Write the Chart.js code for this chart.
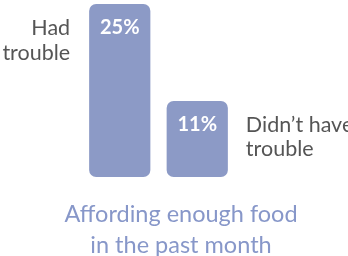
<!DOCTYPE html>
<html>
<head>
<meta charset="utf-8">
<script src="https://cdn.jsdelivr.net/npm/chart.js@4"></script>
<style>
  html, body { margin: 0; padding: 0; background: #fff; }
  #wrap { width: 348px; height: 256px; position: relative; }
</style>
</head>
<body>
<div id="wrap"><canvas id="chart"></canvas></div>
<script>
// data
const categories = ["Had trouble", "Didn't have trouble"];
const sideLabels = [["Had", "trouble"], ["Didn\u2019t have", "trouble"]];
const values = [25, 11];
const titleLines = ["Affording enough food", "in the past month"];

const BAR_COLOR = "#8c9ac6";
const TEXT_GRAY = "#555555";
const TITLE_COLOR = "#8797c9";

// draws value labels, side labels and the bottom title
const labelPlugin = {
  id: "labels",
  afterDatasetsDraw(chart) {
    const ctx = chart.ctx;
    const meta = chart.getDatasetMeta(0);
    ctx.save();
    meta.data.forEach((bar, i) => {
      const half = bar.width / 2;
      ctx.textBaseline = "alphabetic";

      ctx.fillStyle = "#ffffff";
      ctx.font = "bold 20px Lato";
      ctx.textAlign = "center";
      ctx.fillText(values[i] + "%", bar.x, bar.y + 30);

      ctx.fillStyle = TEXT_GRAY;
      ctx.font = "21.5px Lato";
      const lines = sideLabels[i];
      if (i === 0) {
        ctx.textAlign = "right";
        lines.forEach((t, j) => ctx.fillText(t, bar.x - half - 19, bar.y + 31 + j * 25));
      } else {
        ctx.textAlign = "left";
        lines.forEach((t, j) => ctx.fillText(t, bar.x + half + 18, bar.y + 31 + j * 24));
      }
    });

    ctx.fillStyle = TITLE_COLOR;
    ctx.font = "23.5px Lato";
    ctx.textAlign = "center";
    titleLines.forEach((t, j) => ctx.fillText(t, 181, 222 + j * 31));
    ctx.restore();
  },
};

new Chart(document.getElementById("chart"), {
  type: "bar",
  data: {
    labels: categories,
    datasets: [
      {
        data: values,
        backgroundColor: BAR_COLOR,
        borderRadius: 7,
        borderSkipped: false,
        barPercentage: 0.79,
        categoryPercentage: 1,
      },
    ],
  },
  options: {
    responsive: true,
    maintainAspectRatio: false,
    animation: false,
    layout: { padding: { left: 81, right: 112, top: 4, bottom: 79 } },
    plugins: { legend: { display: false }, tooltip: { enabled: false } },
    scales: {
      x: { display: false },
      y: { display: false, min: 0, max: 25 },
    },
  },
  plugins: [labelPlugin],
});
</script>
</body>
</html>
